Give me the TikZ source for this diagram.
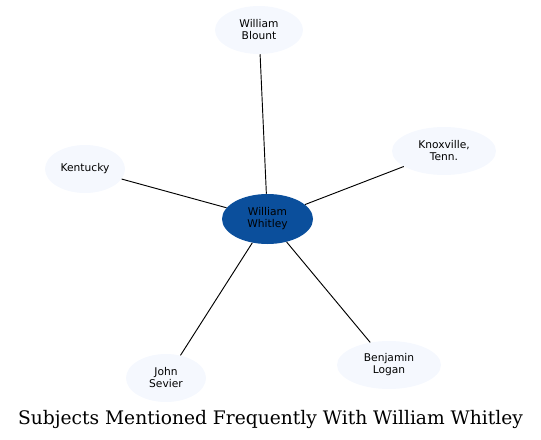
\documentclass[tikz,border=0pt]{standalone}
\usepackage{fontspec}
\setmainfont{DejaVu Sans}
\newfontfamily\titlefont{DejaVu Serif}
\usetikzlibrary{shapes.geometric}
\definecolor{hubblue}{HTML}{0B4F9C}
\definecolor{leafblue}{HTML}{F5F8FE}
\tikzset{
  subj/.style={ellipse,fill=leafblue,inner sep=0pt,align=center,font=\fontsize{8}{9}\selectfont},
  hub/.style={subj,fill=hubblue},
  link/.style={draw=black,line width=0.7pt}
}
\begin{document}
\begin{tikzpicture}[x=0.75pt,y=-0.75pt]
\useasboundingbox (0,0) rectangle (541,439);

\node[hub,minimum width=68.25pt,minimum height=37.5pt] (whitley) at (267.5,219) {William\\Whitley};

\node[subj,minimum width=66pt,minimum height=36pt] (blount) at (259,30) {William\\Blount};
\node[subj,minimum width=78pt,minimum height=36pt] (knox) at (444,151) {Knoxville,\\Tenn.};
\node[subj,minimum width=60pt,minimum height=36pt] (kentucky) at (85,169) {Kentucky};
\node[subj,minimum width=60pt,minimum height=36pt] (sevier) at (166,378) {John\\Sevier};
\node[subj,minimum width=78pt,minimum height=36pt] (logan) at (389,365) {Benjamin\\Logan};

\draw[link] (whitley) -- (blount);
\draw[link] (whitley) -- (knox);
\draw[link] (whitley) -- (kentucky);
\draw[link] (whitley) -- (sevier);
\draw[link] (whitley) -- (logan);

\node[font=\titlefont\fontsize{14}{16}\selectfont] (title) at (270.5,419) {Subjects Mentioned Frequently With William Whitley};
\end{tikzpicture}
\end{document}
